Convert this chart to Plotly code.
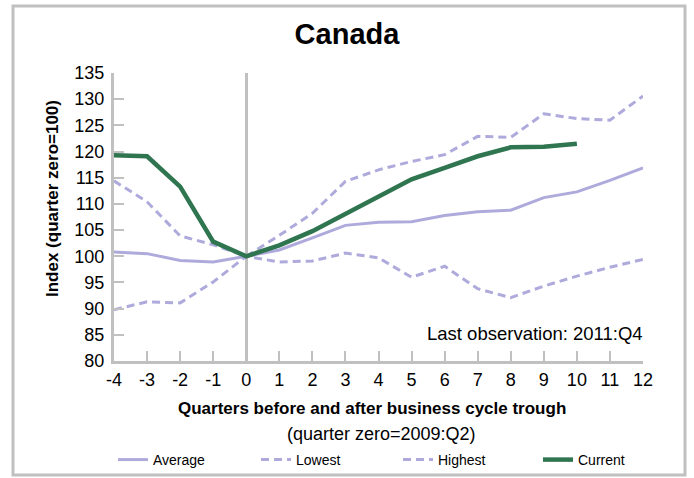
import plotly.graph_objects as go

quarters = list(range(-4, 13))
average = [100.8, 100.5, 99.2, 98.9, 100.0, 101.2, 103.5, 105.9, 106.5, 106.6, 107.8, 108.5, 108.8, 111.2, 112.3, 114.5, 116.9]
lowest = [89.8, 91.3, 91.1, 95.1, 100.0, 98.9, 99.1, 100.6, 99.7, 96.0, 98.1, 93.8, 92.1, 94.3, 96.2, 97.9, 99.4]
highest = [114.4, 110.4, 103.9, 102.2, 100.0, 104.0, 108.2, 114.3, 116.5, 118.1, 119.4, 122.9, 122.7, 127.2, 126.3, 126.0, 130.6]
current_q = list(range(-4, 11))
current = [119.3, 119.1, 113.3, 102.8, 100.0, 102.1, 104.8, 108.1, 111.5, 114.7, 116.9, 119.1, 120.8, 120.9, 121.5]
y_ticks = list(range(80, 136, 5))

LAV = "#aeaadc"
GREEN = "#2e7550"
GRID = "#c0c0c0"
FONT = "Liberation Sans, Arial, sans-serif"

fig = go.Figure()
fig.add_trace(go.Scatter(x=quarters, y=average, name="Average", mode="lines",
                         line=dict(color=LAV, width=3), legend="legend"))
fig.add_trace(go.Scatter(x=quarters, y=lowest, name="Lowest", mode="lines",
                         line=dict(color=LAV, width=3, dash="8px,5px"), legend="legend2"))
fig.add_trace(go.Scatter(x=quarters, y=highest, name="Highest", mode="lines",
                         line=dict(color=LAV, width=3, dash="8px,5px"), legend="legend3"))
fig.add_trace(go.Scatter(x=current_q, y=current, name="Current", mode="lines",
                         line=dict(color=GREEN, width=4.5), legend="legend4"))

L, R, T, B = 114, 51, 73, 117
W, H = 694, 478
pw = W - L - R
ph = H - T - B

def px(xp):
    return (xp - L) / pw

def py(yp):
    return (H - B - yp) / ph

def leg(xpix):
    return dict(orientation="h", xref="container", yref="container",
                x=xpix / W, y=(H - 460) / H, xanchor="left", yanchor="middle",
                font=dict(size=14, family=FONT), bgcolor="rgba(0,0,0,0)")

fig.update_layout(
    width=W, height=H,
    margin=dict(l=L, r=R, t=T, b=B),
    paper_bgcolor="white", plot_bgcolor="white",
    font=dict(family=FONT, color="black", size=18),
    title=dict(text="<b>Canada</b>", x=0.5, xref="container", xanchor="center",
               y=1 - 34 / H, yref="container", yanchor="middle",
               font=dict(size=29, family=FONT, color="black")),
    showlegend=True,
    legend=leg(113), legend2=leg(256), legend3=leg(398), legend4=leg(538),
    xaxis=dict(range=[-4, 12], tickmode="array", tickvals=quarters,
               ticktext=[str(q) for q in quarters],
               showgrid=False, showline=True, linecolor=GRID, linewidth=3,
               ticks="inside", ticklen=10, tickwidth=2, tickcolor=GRID,
               zeroline=True, zerolinecolor=GRID, zerolinewidth=3,
               tickfont=dict(size=18), fixedrange=True),
    yaxis=dict(range=[80, 135], tickmode="array", tickvals=y_ticks,
               showgrid=False, showline=True, linecolor=GRID, linewidth=3,
               ticks="inside", ticklen=10, tickwidth=2, tickcolor=GRID,
               ticklabelstandoff=3,
               zeroline=False, tickfont=dict(size=18), fixedrange=True),
    shapes=[dict(type="rect", xref="paper", yref="paper",
                 x0=px(13), x1=px(685), y0=py(475), y1=py(6),
                 line=dict(color=GRID, width=3), fillcolor="rgba(0,0,0,0)",
                 layer="below")],
    annotations=[
        dict(text="<b>Index (quarter zero=100)</b>", textangle=-90,
             xref="paper", yref="paper", x=px(52), y=py(199),
             xanchor="center", yanchor="middle", showarrow=False,
             font=dict(size=17)),
        dict(text="<b>Quarters before and after business cycle trough</b>",
             xref="paper", yref="paper", x=px(372), y=py(408),
             xanchor="center", yanchor="middle", showarrow=False,
             font=dict(size=17)),
        dict(text="(quarter zero=2009:Q2)",
             xref="paper", yref="paper", x=px(381), y=py(434),
             xanchor="center", yanchor="middle", showarrow=False,
             font=dict(size=18)),
        dict(text="Last observation: 2011:Q4",
             xref="paper", yref="paper", x=px(645), y=py(333),
             xanchor="right", yanchor="middle", showarrow=False,
             font=dict(size=18.5)),
    ],
)

fig.write_html("out.html", config={"displayModeBar": False},
               post_script="document.body.style.margin='0';document.body.style.overflow='hidden';")
